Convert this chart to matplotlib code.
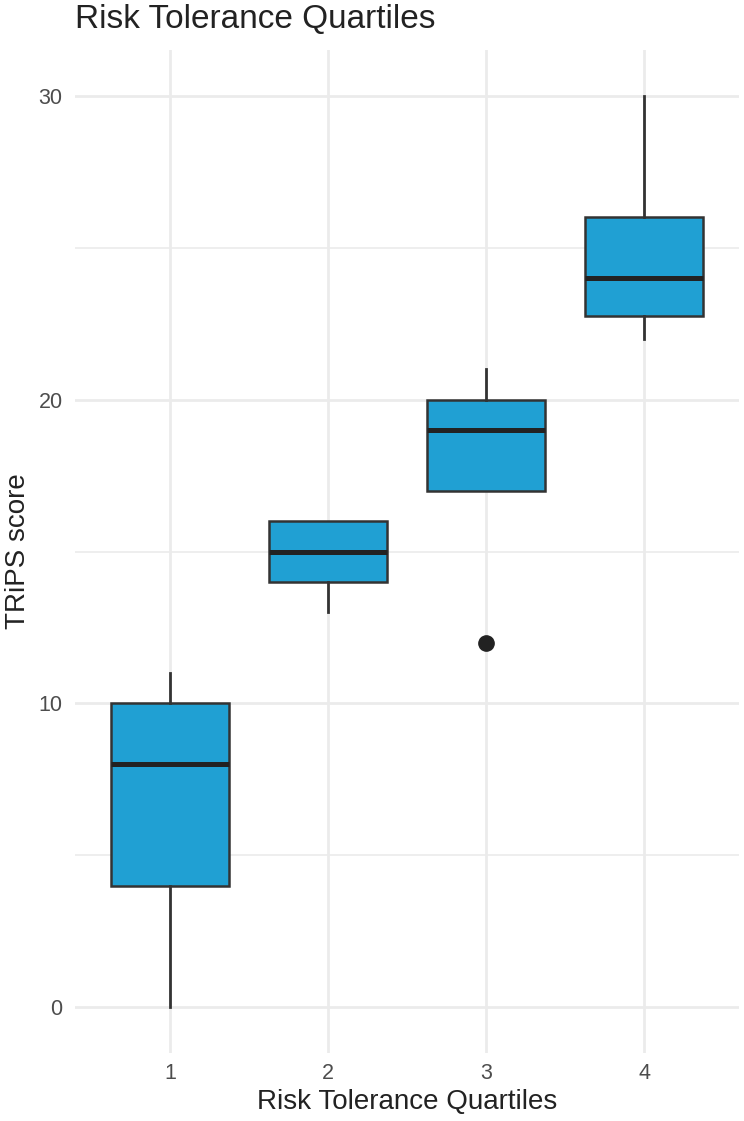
import matplotlib.pyplot as plt
from matplotlib.ticker import MultipleLocator

"""Boxplot of TRiPS scores by risk tolerance quartile"""

quartiles = [1, 2, 3, 4]
whisker_low = [0, 13, 17, 22]
box_low = [4, 14, 17, 22.75]
medians = [8, 15, 19, 24]
box_high = [10, 16, 20, 26]
whisker_high = [11, 16, 21, 30]
outliers = [[], [], [12], []]

FILL = '#20A0D3'
EDGE = '#333333'

plt.rcParams['font.family'] = ['Liberation Sans', 'DejaVu Sans']


def build_stats():
    stats = []
    for q, wl, lo, med, hi, wh, fl in zip(quartiles, whisker_low, box_low, medians,
                                          box_high, whisker_high, outliers):
        stats.append({'label': str(q), 'whislo': wl, 'q1': lo, 'med': med,
                      'q3': hi, 'whishi': wh, 'fliers': fl})
    return stats


fig = plt.figure(figsize=(7.44, 11.21), dpi=100)
ax = fig.add_axes([75 / 744, 1 - 1053 / 1121, 664 / 744, 1003 / 1121])

ax.bxp(build_stats(), positions=quartiles, widths=0.75, patch_artist=True,
       showcaps=False,
       boxprops=dict(facecolor=FILL, edgecolor=EDGE, linewidth=1.8),
       whiskerprops=dict(color=EDGE, linewidth=2.0),
       medianprops=dict(color='#222222', linewidth=3.6, solid_capstyle='butt'),
       flierprops=dict(marker='o', markerfacecolor='#222222', markeredgecolor='#222222',
                       markersize=11))

ax.set_xlim(0.4, 4.6)
ax.set_ylim(-1.5, 31.5)
ax.set_xticks(quartiles)
ax.set_xticklabels([str(q) for q in quartiles])
ax.yaxis.set_major_locator(MultipleLocator(10))
ax.yaxis.set_minor_locator(MultipleLocator(5))

ax.set_axisbelow(True)
ax.grid(which='major', color='#EBEBEB', linewidth=2.0)
ax.grid(which='minor', axis='y', color='#EBEBEB', linewidth=1.2)
for side in ax.spines.values():
    side.set_visible(False)
ax.tick_params(which='both', length=0)
ax.tick_params(axis='both', labelsize=15.5, labelcolor='#4D4D4D')
ax.tick_params(axis='x', pad=7)
ax.tick_params(axis='y', pad=9)

ax.set_xlabel('Risk Tolerance Quartiles', fontsize=20, color='#222222')
ax.set_ylabel('TRiPS score', fontsize=20, color='#222222')
ax.xaxis.set_label_coords(0.5, -0.036)
ax.yaxis.set_label_coords(-0.066, 0.5)
fig.text(75 / 744, 1 - 28 / 1121, 'Risk Tolerance Quartiles', fontsize=24,
         color='#222222', ha='left', va='baseline')

fig.savefig('out.png', dpi=100)
